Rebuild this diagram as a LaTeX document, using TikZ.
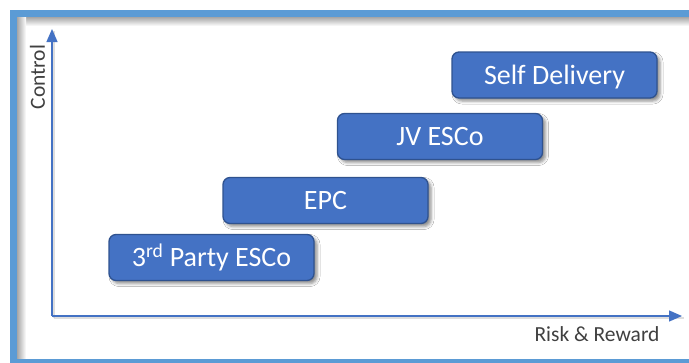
\documentclass[tikz,border=0pt]{standalone}
\usepackage{fontspec}
\setmainfont{Carlito}
\usetikzlibrary{arrows.meta,shadows.blur}
\definecolor{frameblue}{HTML}{5B9BD5}
\definecolor{boxfill}{HTML}{4472C4}
\definecolor{boxedge}{HTML}{2F528F}
\definecolor{axisblue}{HTML}{4472C4}
\definecolor{labelgray}{HTML}{404040}
\tikzset{
  stage/.style={
    draw=boxedge, line width=1.3pt, fill=boxfill, rounded corners=7pt,
    minimum width=205pt, minimum height=46pt, inner sep=0pt,
    text=white, font=\fontsize{28pt}{31pt}\selectfont,
    text height=18pt, text depth=0pt,
    blur shadow={shadow xshift=3pt, shadow yshift=-3pt,
                 shadow blur radius=3pt, shadow opacity=45}},
  axis/.style={draw=axisblue, line width=1.3pt,
    -{Triangle[length=13pt,width=11pt,fill=axisblue]}},
  axisshade/.style={draw=black!25, line width=2.5pt, opacity=0.5},
  axislabel/.style={text=labelgray, font=\fontsize{21.5pt}{24pt}\selectfont, inner sep=0pt}
}
\begin{document}
\begin{tikzpicture}[x=1pt,y=-1pt]
  \useasboundingbox (0,0) rectangle (689,362);
  \clip (0,0) rectangle (689,362);
  \fill[white] (0,0) rectangle (689,362);

  % inner shadow along the top and left edge of the frame
  \shade[top color=black!35, bottom color=white] (17,17) rectangle (689,26);
  \shade[left color=black!35, right color=white] (17,17) rectangle (26,359);

  % blue frame, open to the right
  \draw[frameblue, line width=7pt] (700,13.5) -- (13.5,13.5) -- (13.5,362.5) -- (700,362.5);

  % axes
  \coordinate (origin) at (52,316);
  \coordinate (ytop) at (52,29);
  \coordinate (xend) at (682,316);
  \draw[axisshade] ([shift={(2,2)}]origin) -- ([shift={(2,2)}]xend);
  \draw[axisshade] ([shift={(2,2)}]origin) -- ([shift={(2,2)}]ytop);
  \draw[axis] (origin) -- (ytop);
  \draw[axis] (origin) -- (xend);

  \node[axislabel, rotate=90, anchor=base] (control) at (45,77) {Control};
  \node[axislabel, anchor=base] (risk) at (597,341) {Risk \& Reward};

  % delivery models
  \node[stage] (third) at (211.5,257.5) {3\textsuperscript{rd} Party ESCo};
  \node[stage] (epc)   at (325.5,200.5) {EPC};
  \node[stage] (jv)    at (440,136.5)   {JV ESCo};
  \node[stage] (self)  at (554.5,75)    {Self Delivery};
\end{tikzpicture}
\end{document}
